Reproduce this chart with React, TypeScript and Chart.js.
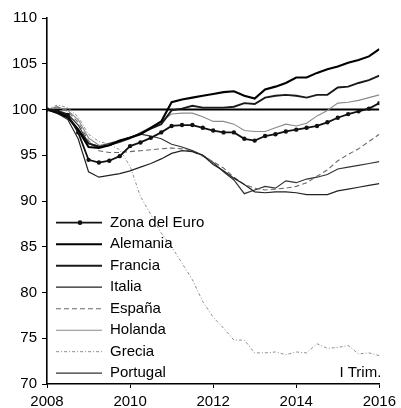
import { useEffect, useRef } from 'react';
import { Chart, registerables } from 'chart.js';

Chart.register(...registerables);

const quarters = [
  '2008-I', '2008-II', '2008-III', '2008-IV',
  '2009-I', '2009-II', '2009-III', '2009-IV',
  '2010-I', '2010-II', '2010-III', '2010-IV',
  '2011-I', '2011-II', '2011-III', '2011-IV',
  '2012-I', '2012-II', '2012-III', '2012-IV',
  '2013-I', '2013-II', '2013-III', '2013-IV',
  '2014-I', '2014-II', '2014-III', '2014-IV',
  '2015-I', '2015-II', '2015-III', '2015-IV',
  '2016-I',
];

const zonaEuro = [100, 99.8, 99.4, 97.5, 94.5, 94.2, 94.4, 94.9, 96.0, 96.4, 96.9, 97.5, 98.2, 98.3, 98.3, 98.0, 97.7, 97.5, 97.5, 96.8, 96.6, 97.1, 97.3, 97.6, 97.8, 98.0, 98.2, 98.6, 99.1, 99.5, 99.8, 100.1, 100.7];
const alemania = [100, 99.7, 99.2, 97.8, 95.9, 95.8, 96.1, 96.6, 96.9, 97.3, 98.0, 98.7, 100.8, 101.1, 101.3, 101.5, 101.7, 101.9, 102.0, 101.5, 101.2, 102.2, 102.5, 102.9, 103.5, 103.5, 104.0, 104.4, 104.7, 105.1, 105.4, 105.8, 106.6];
const francia = [100, 99.6, 99.1, 97.8, 96.3, 95.9, 96.1, 96.5, 96.9, 97.4, 97.9, 98.4, 99.9, 100.1, 100.4, 100.2, 100.2, 100.2, 100.3, 100.7, 100.6, 101.3, 101.5, 101.6, 101.5, 101.3, 101.6, 101.6, 102.4, 102.5, 102.9, 103.2, 103.7];
const italia = [100, 99.6, 98.9, 96.8, 93.2, 92.6, 92.8, 93.0, 93.3, 93.7, 94.1, 94.6, 95.2, 95.5, 95.4, 95.0, 94.0, 93.3, 92.5, 91.8, 91.0, 90.9, 91.0, 91.0, 90.9, 90.7, 90.7, 90.7, 91.1, 91.3, 91.5, 91.7, 91.9];
const espana = [100, 100.3, 99.8, 98.6, 96.6, 95.5, 95.3, 95.3, 95.4, 95.5, 95.6, 95.7, 95.8, 95.7, 95.4, 94.9, 94.3, 93.6, 92.6, 91.8, 91.4, 91.2, 91.3, 91.4, 91.6, 92.0, 92.7, 93.4, 94.4, 95.1, 95.7, 96.5, 97.3];
const holanda = [100, 100.3, 99.9, 98.9, 96.9, 96.1, 96.1, 96.4, 96.8, 97.5, 98.1, 98.7, 99.5, 99.6, 99.6, 99.2, 98.7, 98.7, 98.4, 97.7, 97.6, 97.6, 98.0, 98.4, 98.2, 98.5, 99.3, 99.9, 100.7, 100.8, 101.0, 101.3, 101.6];
const grecia = [100, 100.5, 100.2, 99.2, 97.3, 96.5, 96.2, 95.6, 93.8, 90.5, 88.5, 86.5, 85.0, 83.2, 81.4, 79.0, 77.3, 76.1, 74.8, 74.8, 73.4, 73.4, 73.5, 73.2, 73.5, 73.4, 74.4, 73.9, 74.0, 74.2, 73.3, 73.4, 73.1];
const portugal = [100, 99.9, 99.5, 98.3, 96.3, 96.0, 96.3, 96.6, 97.0, 97.3, 97.1, 96.8, 96.2, 95.9, 95.5, 95.0, 94.2, 93.2, 92.3, 90.8, 91.2, 91.6, 91.4, 92.2, 92.0, 92.4, 92.6, 92.9, 93.5, 93.7, 93.9, 94.1, 94.3];

const seriesNames = ['Zona del Euro', 'Alemania', 'Francia', 'Italia', 'España', 'Holanda', 'Grecia', 'Portugal'];
const yTickLabels = ['70', '75', '80', '85', '90', '95', '100', '105', '110'];
const xTickLabels = ['2008', '2010', '2012', '2014', '2016'];
const referenceLevel = [100, 100];
const noteText = 'I Trim.';

const FONT = '"Liberation Sans", Arial, sans-serif';

function toPoints(values: number[]) {
  return values.map((v, i) => ({ x: 2008 + i / 4, y: v, q: quarters[i] }));
}

export default function App() {
  const ref = useRef<HTMLCanvasElement | null>(null);

  useEffect(() => {
    if (!ref.current) return;
    const series = [zonaEuro, alemania, francia, italia, espana, holanda, grecia, portugal];
    const styles = [
      { color: '#111', width: 1.8, dash: [] as number[], radius: 2.2 },
      { color: '#000', width: 2.1, dash: [] as number[], radius: 0 },
      { color: '#1a1a1a', width: 1.9, dash: [] as number[], radius: 0 },
      { color: '#222', width: 1.2, dash: [] as number[], radius: 0 },
      { color: '#6a6a6a', width: 1.1, dash: [5, 3], radius: 0 },
      { color: '#8a8a8a', width: 1.1, dash: [] as number[], radius: 0 },
      { color: '#8f8f8f', width: 1, dash: [3, 2, 1, 2], radius: 0 },
      { color: '#333', width: 1.2, dash: [] as number[], radius: 0 },
    ];
    const datasets: any[] = series.map((vals, k) => ({
      label: seriesNames[k],
      data: toPoints(vals),
      borderColor: styles[k].color,
      backgroundColor: styles[k].color,
      borderWidth: styles[k].width,
      borderDash: styles[k].dash,
      pointRadius: styles[k].radius,
      pointBackgroundColor: styles[k].color,
      pointBorderWidth: 0,
      tension: 0,
      fill: false,
    }));
    datasets.push({
      label: '__ref',
      data: referenceLevel.map((v, i) => ({ x: i === 0 ? 2008 : 2016, y: v })),
      borderColor: '#000',
      backgroundColor: '#000',
      borderWidth: 2.2,
      pointRadius: 0,
      tension: 0,
      fill: false,
    });

    const legendPlugin = {
      id: 'insideLegend',
      afterDraw(chart: any) {
        const ctx = chart.ctx;
        const x0 = 56;
        const x1 = 102;
        const textX = 110;
        const firstY = 222.7;
        const step = 21.5;
        ctx.save();
        ctx.font = '15px ' + FONT;
        ctx.textBaseline = 'middle';
        ctx.textAlign = 'left';
        seriesNames.forEach((name, k) => {
          const ds = chart.data.datasets[k];
          const y = firstY + k * step;
          ctx.save();
          ctx.strokeStyle = ds.borderColor;
          ctx.lineWidth = ds.borderWidth;
          ctx.setLineDash(ds.borderDash || []);
          ctx.beginPath();
          ctx.moveTo(x0, y);
          ctx.lineTo(x1, y);
          ctx.stroke();
          if (ds.pointRadius > 0) {
            ctx.fillStyle = ds.borderColor;
            ctx.beginPath();
            ctx.arc((x0 + x1) / 2 + 1, y, ds.pointRadius + 0.2, 0, Math.PI * 2);
            ctx.fill();
          }
          ctx.restore();
          ctx.fillStyle = '#000';
          ctx.fillText(name, textX, y);
        });
        ctx.textAlign = 'right';
        ctx.fillText(noteText, chart.chartArea.right + 2, 373);
        ctx.restore();
      },
    };

    const chart = new Chart(ref.current, {
      type: 'line',
      data: { datasets },
      plugins: [legendPlugin],
      options: {
        animation: false,
        responsive: true,
        maintainAspectRatio: false,
        layout: { padding: { left: 0, top: 18, right: 20, bottom: 0 } },
        plugins: {
          tooltip: { enabled: false },
          legend: { display: false },
        },
        scales: {
          x: {
            type: 'linear',
            min: 2008,
            max: 2016,
            afterFit: (s: any) => { s.height = 24; },
            grid: { drawOnChartArea: false, drawTicks: true, tickLength: 4, color: '#000' },
            border: { display: true, color: '#000', width: 1.6 },
            ticks: {
              stepSize: 2,
              padding: 5,
              color: '#000',
              font: { family: FONT, size: 15 },
              maxRotation: 0,
              callback: (v: any) => xTickLabels.find((t) => Number(t) === Number(v)) ?? '',
            },
          },
          y: {
            type: 'linear',
            min: 70,
            max: 110,
            afterFit: (s: any) => { s.width = 47; },
            grid: { drawOnChartArea: false, drawTicks: true, tickLength: 5, color: '#000' },
            border: { display: true, color: '#000', width: 1.6 },
            ticks: {
              stepSize: 5,
              padding: 5,
              color: '#000',
              font: { family: FONT, size: 15 },
              callback: (v: any) => yTickLabels.find((t) => Number(t) === Number(v)) ?? '',
            },
          },
        },
      },
    });
    return () => chart.destroy();
  }, []);

  return (
    <div style={{ position: 'fixed', left: 0, top: 0, width: 401, height: 408, background: '#fff' }}>
      <canvas ref={ref} />
    </div>
  );
}
